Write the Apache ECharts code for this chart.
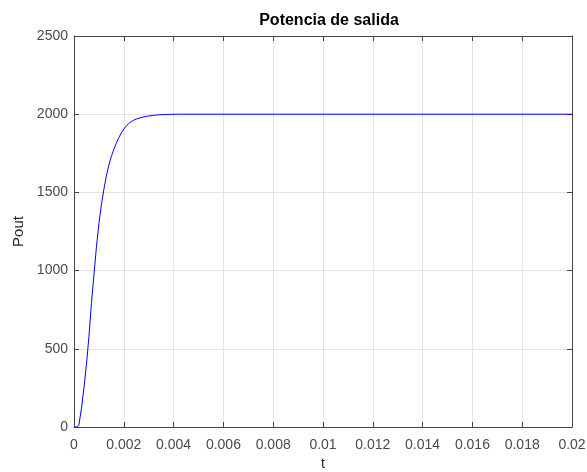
<!DOCTYPE html>
<html style="height: 100%">
   <head>
       <meta charset="utf-8">
   </head>
   <body style="height: 100%; margin: 0; background: #fff">
       <div id="container" style="width: 587px; height: 472px"></div>
       <script type="text/javascript" src="https://cdn.jsdelivr.net/npm/echarts@6/dist/echarts.min.js"></script>
       <script type="text/javascript">
        // valores
        var tiempo = [0, 0.00012, 0.0002, 0.0003, 0.0004, 0.0005, 0.0006, 0.0007, 0.0008, 0.0009,
                      0.001, 0.0011, 0.0012, 0.0013, 0.0014, 0.0015, 0.0016, 0.0017, 0.0018, 0.0019,
                      0.002, 0.0021, 0.0022, 0.0023, 0.0024, 0.0025, 0.0027, 0.0029, 0.0032, 0.0035,
                      0.0039, 0.0042, 0.02];
        var pout = [0, 0, 15, 120, 250, 400, 580, 790, 970, 1150,
                    1300, 1420, 1520, 1605, 1675, 1730, 1775, 1815, 1850, 1880,
                    1905, 1925, 1941, 1953, 1962, 1969, 1979, 1986, 1993, 1997,
                    1999, 2000, 2000];
        var xTicks = [0, 0.002, 0.004, 0.006, 0.008, 0.01, 0.012, 0.014, 0.016, 0.018, 0.02];
        var yTicks = [0, 500, 1000, 1500, 2000, 2500];

        var dom = document.getElementById("container");
        var myChart = echarts.init(dom);
        var fuente = 'Liberation Sans';
        var gris = '#444';

        var datos = tiempo.map(function (t, i) { return [t, pout[i]]; });

        function ejeX(pos, conEtiquetas) {
            return {
                type: 'value', position: pos,
                min: xTicks[0], max: xTicks[xTicks.length - 1], interval: 0.002,
                name: conEtiquetas ? 't' : '', nameLocation: 'middle', nameGap: 29,
                nameTextStyle: { color: '#262626', fontFamily: fuente, fontSize: 14 },
                axisLine: { show: true, onZero: false, lineStyle: { color: gris, width: 1 } },
                axisTick: { show: true, inside: true, length: 5, lineStyle: { color: gris } },
                axisLabel: {
                    show: conEtiquetas, color: '#4a4a4a', fontFamily: fuente, fontSize: 14, margin: 11,
                    formatter: function (v) { return String(parseFloat(v.toFixed(3))); }
                },
                splitLine: { show: conEtiquetas, lineStyle: { color: '#e3e3e3', width: 1 } }
            };
        }
        function ejeY(pos, conEtiquetas) {
            return {
                type: 'value', position: pos,
                min: yTicks[0], max: yTicks[yTicks.length - 1], interval: 500,
                name: conEtiquetas ? 'Pout' : '', nameLocation: 'middle', nameGap: 37,
                nameTextStyle: { color: '#262626', fontFamily: fuente, fontSize: 15 },
                axisLine: { show: true, onZero: false, lineStyle: { color: gris, width: 1 } },
                axisTick: { show: true, inside: true, length: 5, lineStyle: { color: gris } },
                axisLabel: {
                    show: conEtiquetas, color: '#4a4a4a', fontFamily: fuente, fontSize: 14, margin: 6,
                    formatter: function (v) { return String(v); }
                },
                splitLine: { show: conEtiquetas, lineStyle: { color: '#e3e3e3', width: 1 } }
            };
        }

        var option = {
            animation: false,
            backgroundColor: '#fff',
            title: {
                text: 'Potencia de salida', left: 324, textAlign: 'center', top: 8,
                textStyle: { fontFamily: fuente, fontSize: 16, fontWeight: 'bold', color: '#000' }
            },
            grid: { left: 74, right: 15, top: 36, bottom: 45, outerBoundsMode: 'none', containLabel: false },
            xAxis: [ejeX('bottom', true), ejeX('top', false)],
            yAxis: [ejeY('left', true), ejeY('right', false)],
            series: [{
                type: 'line',
                data: datos,
                showSymbol: false,
                smooth: false,
                lineStyle: { color: '#0000ff', width: 1 },
                itemStyle: { color: '#0000ff' }
            }]
        };
        myChart.setOption(option);
       </script>
   </body>
</html>
